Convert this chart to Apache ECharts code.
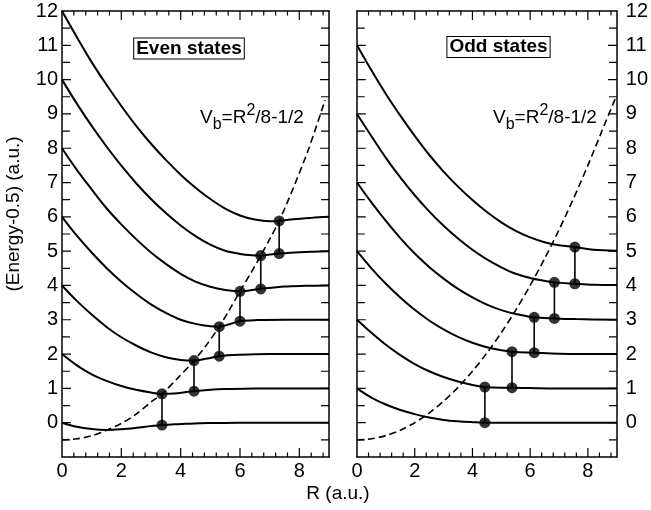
<!DOCTYPE html>
<html>
<head>
<meta charset="utf-8">
<script src="https://cdn.jsdelivr.net/npm/echarts@6/dist/echarts.min.js"></script>
<style>
html,body{margin:0;padding:0;background:#fff;}
#chart{width:651px;height:510px;}
</style>
</head>
<body>
<div id="chart"></div>
<script>
// ---------- data ----------
const xTickLabels = [0, 2, 4, 6, 8];
const yTickLabels = [0,1,2,3,4,5,6,7,8,9,10,11,12];
const xMajorTicks = [2, 4, 6, 8];
const xMinorTicks = [0.4,0.8,1.2,1.6,2.4,2.8,3.2,3.6,4.4,4.8,5.2,5.6,6.4,6.8,7.2,7.6,8.4,8.8];
const yMajorTicks = [0,1,2,3,4,5,6,7,8,9,10,11];
const yMinorTicks = [-0.5,0.5,1.5,2.5,3.5,4.5,5.5,6.5,7.5,8.5,9.5,10.5,11.5];

// Even states (left panel): [R, Energy-0.5]
const even0 = [[0,0],[0.5,-0.12],[1,-0.185],[1.5,-0.21],[2,-0.19],[2.5,-0.15],[3,-0.1],[3.37,-0.07],[4,-0.04],[4.45,-0.02],[5,-0.01],[6,0],[9,0]];
const even1 = [[0,2],[0.5,1.67],[1,1.41],[1.5,1.22],[2,1.07],[2.5,0.96],[3,0.88],[3.37,0.84],[3.9,0.86],[4.45,0.92],[5,0.96],[5.5,0.98],[6.5,1.0],[9,1.0]];
const even2 = [[0,4],[0.5,3.55],[1,3.15],[1.5,2.79],[2,2.49],[2.5,2.25],[3,2.05],[3.5,1.91],[4,1.83],[4.45,1.81],[4.9,1.87],[5.3,1.94],[6,1.98],[7,2.0],[9,2.0]];
const even3 = [[0,6],[0.5,5.45],[1,4.96],[1.5,4.51],[2,4.11],[2.5,3.76],[3,3.45],[3.5,3.2],[4,3.0],[4.5,2.88],[5,2.81],[5.3,2.8],[5.65,2.87],[6,2.96],[6.6,2.99],[7.5,3.0],[9,3.0]];
const even4 = [[0,8],[0.5,7.37],[1,6.8],[1.5,6.25],[2,5.78],[2.5,5.35],[3,4.96],[3.5,4.63],[4,4.34],[4.5,4.11],[5,3.96],[5.5,3.87],[6,3.83],[6.35,3.86],[6.7,3.9],[7.5,3.97],[8.2,3.99],[9,4.0]];
const even5 = [[0,10],[0.5,9.3],[1,8.65],[1.5,8.05],[2,7.49],[2.5,6.98],[3,6.52],[3.5,6.11],[4,5.75],[4.5,5.44],[5,5.19],[5.5,5.01],[6,4.92],[6.4,4.88],[6.7,4.87],[7,4.9],[7.32,4.93],[8,4.97],[9,5.0]];
const even6 = [[0,12],[0.5,11.24],[1,10.51],[1.5,9.85],[2,9.23],[2.5,8.65],[3,8.13],[3.5,7.66],[4,7.23],[4.5,6.85],[5,6.52],[5.5,6.24],[6,6.04],[6.5,5.92],[7,5.87],[7.32,5.88],[7.8,5.93],[8.4,5.97],[9,6.0]];

// Odd states (right panel)
const odd0 = [[0,1],[0.5,0.73],[1,0.53],[1.5,0.37],[2,0.25],[2.5,0.15],[3,0.08],[3.5,0.04],[4,0.015],[4.43,0.0],[9,0]];
const odd1 = [[0,3],[0.5,2.62],[1,2.27],[1.5,1.97],[2,1.71],[2.5,1.5],[3,1.33],[3.5,1.2],[4,1.1],[4.43,1.04],[5,1.02],[5.37,1.02],[6,1.01],[7,1.0],[9,1.0]];
const odd2 = [[0,5],[0.5,4.5],[1,4.05],[1.5,3.65],[2,3.29],[2.5,2.98],[3,2.72],[3.5,2.5],[4,2.33],[4.5,2.2],[5,2.11],[5.37,2.07],[6.14,2.04],[7,2.01],[9,2.0]];
const odd3 = [[0,7],[0.5,6.42],[1,5.88],[1.5,5.38],[2,4.93],[2.5,4.54],[3,4.2],[3.5,3.9],[4,3.65],[4.5,3.44],[5,3.28],[5.5,3.17],[6.14,3.07],[6.84,3.04],[7.6,3.02],[9,3.0]];
const odd4 = [[0,9],[0.5,8.35],[1,7.72],[1.5,7.15],[2,6.63],[2.5,6.16],[3,5.74],[3.5,5.37],[4,5.04],[4.5,4.76],[5,4.53],[5.5,4.34],[6,4.22],[6.4,4.15],[6.84,4.09],[7.55,4.05],[8.2,4.02],[9,4.01]];
const odd5 = [[0,11],[0.5,10.27],[1,9.58],[1.5,8.95],[2,8.36],[2.5,7.81],[3,7.32],[3.5,6.88],[4,6.49],[4.5,6.14],[5,5.84],[5.5,5.59],[6,5.4],[6.5,5.26],[7,5.17],[7.55,5.12],[8.2,5.04],[9,5.01]];

// Barrier curves Vb = R^2/8 - 1/2 (as drawn)
const barrierLeft = [[0,-0.5],[0.5,-0.47],[1,-0.38],[1.5,-0.22],[2,-0.02],[2.5,0.25],[3,0.6],[3.37,0.84],[3.9,1.3],[4.45,1.81],[4.9,2.3],[5.3,2.8],[5.65,3.3],[6,3.83],[6.35,4.34],[6.7,4.87],[7,5.35],[7.32,5.88],[7.8,6.85],[8.3,7.95],[8.87,9.4]];
const barrierRight = [[0,-0.5],[0.5,-0.469],[1,-0.375],[1.5,-0.219],[2,0],[2.5,0.281],[3,0.625],[3.5,1.031],[4,1.5],[4.5,2.031],[5,2.625],[5.5,3.281],[6,4.0],[6.5,4.781],[7,5.625],[7.5,6.531],[8,7.5],[8.5,8.531],[8.95,9.45]];

// Transition markers
const leftDotR   = [3.37, 4.45, 5.3, 6.0, 6.7, 7.32];
const leftDotTop = [0.84, 1.81, 2.8, 3.83, 4.87, 5.88];
const leftDotBot = [-0.07, 0.92, 1.94, 2.96, 3.9, 4.93];
const rightDotR   = [4.43, 5.37, 6.14, 6.84, 7.55];
const rightDotTop = [1.04, 2.07, 3.07, 4.09, 5.12];
const rightDotBot = [0.0, 1.02, 2.04, 3.04, 4.05];

// ---------- chart ----------
const FONT = '"Liberation Sans", Arial, Helvetica, sans-serif';
const X_MIN = 0, X_MAX = 9, Y_MIN = -1, Y_MAX = 12;
const GRID_W = 267, GRID_H = 446;
const chart = echarts.init(document.getElementById('chart'));

function lineOn(){ return {show:true, onZero:false, lineStyle:{color:'#000', width:1.5}}; }

function xAx(gridIndex, pos, labels){
  return {
    type:'value', gridIndex, position:pos, min:X_MIN, max:X_MAX, interval:2,
    axisLine:lineOn(), axisTick:{show:false}, minorTick:{show:false},
    axisLabel:{show:labels, color:'#000', fontSize:20, fontFamily:FONT, margin:4,
      formatter:v => (xTickLabels.indexOf(v) >= 0 ? String(v) : '')},
    splitLine:{show:false}, minorSplitLine:{show:false}
  };
}
function yAx(gridIndex, pos, labels, margin){
  return {
    type:'value', gridIndex, position:pos, min:Y_MIN, max:Y_MAX, interval:1,
    axisLine:lineOn(), axisTick:{show:false}, minorTick:{show:false},
    axisLabel:{show:labels, color:'#000', fontSize:20, fontFamily:FONT, margin:margin,
      formatter:v => (yTickLabels.indexOf(v) >= 0 ? String(v) : '')},
    splitLine:{show:false}, minorSplitLine:{show:false}
  };
}

const series = [];

// Inward frame tick marks, drawn as short segments on the axes' own scales.
// Lengths: pixels converted to data units of the perpendicular axis.
function tickSegments(){
  const pxY = (Y_MAX - Y_MIN) / GRID_H, pxX = (X_MAX - X_MIN) / GRID_W;
  const segs = [];
  const xt = (v, len) => { const d = len * pxY;
    segs.push([[v, Y_MIN],[v, Y_MIN + d]]); segs.push([[v, Y_MAX],[v, Y_MAX - d]]); };
  const yt = (v, len) => { const d = len * pxX;
    segs.push([[X_MIN, v],[X_MIN + d, v]]); segs.push([[X_MAX, v],[X_MAX - d, v]]); };
  xMajorTicks.forEach(v => xt(v, 9));
  xMinorTicks.forEach(v => xt(v, 4.5));
  yMajorTicks.forEach(v => yt(v, 9));
  yMinorTicks.forEach(v => yt(v, 8));
  return segs;
}
function addTicks(xi, yi){
  tickSegments().forEach(seg => {
    series.push({type:'line', xAxisIndex:xi, yAxisIndex:yi, data:seg, symbol:'none', silent:true,
      lineStyle:{color:'#000', width:1.2}, z:6});
  });
}
addTicks(0, 0);
addTicks(2, 2);

function curve(data, xi, yi){
  series.push({type:'line', xAxisIndex:xi, yAxisIndex:yi, data, symbol:'none', smooth:0.35,
    lineStyle:{color:'#000', width:2}, z:3, silent:true});
}
[even0,even1,even2,even3,even4,even5,even6].forEach(d => curve(d, 0, 0));
[odd0,odd1,odd2,odd3,odd4,odd5].forEach(d => curve(d, 2, 2));

series.push({type:'line', xAxisIndex:0, yAxisIndex:0, data:barrierLeft, symbol:'none', smooth:0.3,
  lineStyle:{color:'#000', width:1.6, type:[7,4]}, z:2, silent:true});
series.push({type:'line', xAxisIndex:2, yAxisIndex:2, data:barrierRight, symbol:'none', smooth:0.3,
  lineStyle:{color:'#000', width:1.6, type:[7,4]}, z:2, silent:true});

function markers(Rs, tops, bots, xi, yi){
  Rs.forEach((r, i) => {
    series.push({type:'line', xAxisIndex:xi, yAxisIndex:yi, data:[[r, tops[i]],[r, bots[i]]],
      symbol:'none', lineStyle:{color:'#000', width:1.6}, z:4, silent:true});
  });
  const pts = [];
  Rs.forEach((r, i) => { pts.push([r, tops[i]]); pts.push([r, bots[i]]); });
  series.push({type:'scatter', xAxisIndex:xi, yAxisIndex:yi, data:pts, symbol:'circle', symbolSize:11,
    itemStyle:{color:'#000'}, z:5, silent:true});
}
markers(leftDotR, leftDotTop, leftDotBot, 0, 0);
markers(rightDotR, rightDotTop, rightDotBot, 2, 2);

const vbRich = {
  a:{fontSize:19, fontFamily:FONT, fill:'#000', color:'#000', lineHeight:30},
  b:{fontSize:16, fontFamily:FONT, fill:'#000', color:'#000', lineHeight:16, verticalAlign:'bottom'},
  c:{fontSize:16, fontFamily:FONT, fill:'#000', color:'#000', lineHeight:19, verticalAlign:'top'}
};
const vbText = '{a|V}{b|b}{a|=R}{c|2}{a|/8-1/2}';

const option = {
  animation:false,
  backgroundColor:'#fff',
  grid:[
    {left:62, top:11, width:GRID_W, height:GRID_H},
    {left:357, top:11, width:266, height:GRID_H}
  ],
  xAxis:[xAx(0,'bottom',true), xAx(0,'top',false), xAx(1,'bottom',true), xAx(1,'top',false)],
  yAxis:[yAx(0,'left',true,4), yAx(0,'right',false,4), yAx(1,'left',false,4), yAx(1,'right',true,9)],
  series,
  graphic:[
    {type:'text', x:189, y:48.5, z:10, style:{text:'Even states', font:'bold 19px '+FONT, fill:'#000',
      align:'center', verticalAlign:'middle', textAlign:'center', textVerticalAlign:'middle',
      borderColor:'#000', borderWidth:1, padding:[1,2,0,2], backgroundColor:'#fff'}},
    {type:'text', x:498.5, y:47, z:10, style:{text:'Odd states', font:'bold 19px '+FONT, fill:'#000',
      align:'center', verticalAlign:'middle', textAlign:'center', textVerticalAlign:'middle',
      borderColor:'#000', borderWidth:1, padding:[1,2,0,2], backgroundColor:'#fff'}},
    {type:'text', x:200, y:103, z:10, style:{text:vbText, rich:vbRich, fill:'#000', align:'left', verticalAlign:'top', textAlign:'left', textVerticalAlign:'top'}},
    {type:'text', x:493, y:103, z:10, style:{text:vbText, rich:vbRich, fill:'#000', align:'left', verticalAlign:'top', textAlign:'left', textVerticalAlign:'top'}},
    {type:'text', x:14, y:214, rotation:Math.PI/2, z:10, style:{text:'(Energy-0.5) (a.u.)', font:'19px '+FONT, fill:'#000',
      align:'center', verticalAlign:'middle', textAlign:'center', textVerticalAlign:'middle'}},
    {type:'text', x:338, y:494, z:10, style:{text:'R (a.u.)', font:'19px '+FONT, fill:'#000',
      align:'center', verticalAlign:'middle', textAlign:'center', textVerticalAlign:'middle'}}
  ]
};
chart.setOption(option);
</script>
</body>
</html>
